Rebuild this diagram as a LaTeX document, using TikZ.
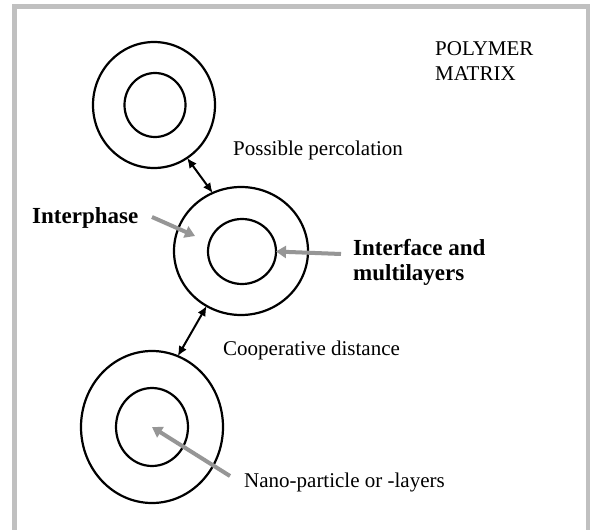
\documentclass[tikz,border=0pt]{standalone}
\usepackage{fontspec}
\setmainfont{Liberation Serif}
\usetikzlibrary{arrows.meta,shapes.geometric}
\definecolor{framegray}{RGB}{192,192,192}
\definecolor{arrowgray}{RGB}{150,150,150}
\begin{document}
\begin{tikzpicture}[x=1pt,y=-1pt,
  ring/.style={ellipse,draw,line width=2.2pt,inner sep=0pt,outer sep=0pt},
  lbl/.style={inner sep=0pt,anchor=base west,align=left,font=\fontsize{21}{25}\selectfont},
  blbl/.style={inner sep=0pt,anchor=base west,align=left,font=\fontsize{23}{25}\selectfont\bfseries},
  blk/.style={line width=2pt,{Latex[length=10pt,width=9pt]}-{Latex[length=10pt,width=9pt]}},
  gry/.style={arrowgray,line width=4pt,-{Triangle[length=10pt,width=12pt]}}]
\useasboundingbox (0,0) rectangle (590,530);
\fill[white] (0,0) rectangle (590,530);
\draw[framegray,line width=5pt] (14.5,6.5) rectangle (588.5,560);
% rings
\node[ring,minimum width=122pt,minimum height=126pt] (topout) at (154,105) {};
\node[ring,minimum width=61pt,minimum height=64pt] (topin) at (155,105) {};
\node[ring,minimum width=134pt,minimum height=128pt] (midout) at (241,251) {};
\node[ring,minimum width=68pt,minimum height=65pt] (midin) at (242,251.5) {};
\node[ring,minimum width=142pt,minimum height=152pt] (botout) at (152,427) {};
\node[ring,minimum width=72pt,minimum height=78pt] (botin) at (152,427) {};
% labels
\node[lbl] (poly) at (435,80) {POLYMER\\MATRIX};
\node[lbl] (perc) at (233,155) {Possible percolation};
\node[blbl] (interph) at (32,223) {Interphase};
\node[blbl] (interf) at (353,280) {Interface and\\multilayers};
\node[lbl] (coop) at (223,355) {Cooperative distance};
\node[lbl] (nano) at (244,487) {Nano-particle or -layers};
% black double arrows
\draw[blk] (topout.-58) -- (midout.116);
\draw[blk] (midout.-122) -- (botout.70);
% gray arrows
\coordinate (iphs) at (152,217);
\coordinate (iphe) at (195,236);
\coordinate (ifs) at (341,254);
\coordinate (nanos) at (230,476);
\draw[gry] (iphs) -- (iphe);
\draw[gry] (ifs) -- (midin.east);
\draw[gry] (nanos) -- (botin.center);
\end{tikzpicture}
\end{document}
